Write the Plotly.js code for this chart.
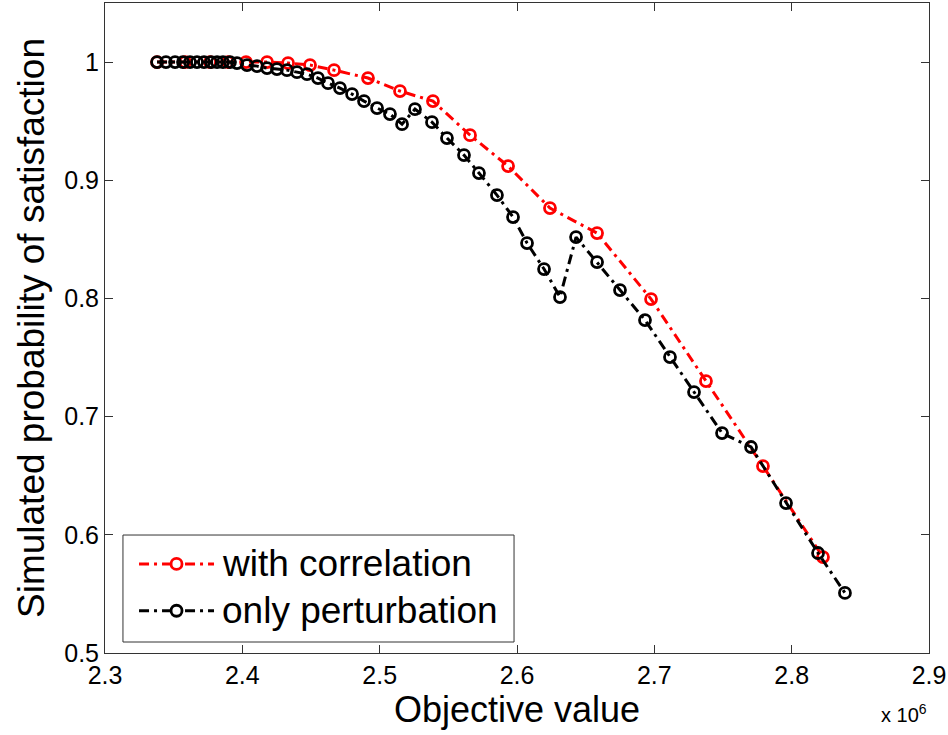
<!DOCTYPE html>
<html>
<head>
<meta charset="utf-8">
<script src="https://cdn.plot.ly/plotly-3.0.1.min.js"></script>
<style>html,body{margin:0;padding:0;background:#fff;}#chart{width:948px;height:735px;}</style>
</head>
<body>
<div id="chart"></div>
<script>
// Objective value (x 10^6) and simulated probability of satisfaction
const corrX = [2.3379, 2.3583, 2.3765, 2.3896, 2.4027, 2.4180, 2.4333, 2.4493, 2.4668, 2.4915,
               2.5148, 2.5388, 2.5658, 2.5935, 2.6240, 2.6583, 2.6976, 2.7376, 2.7791, 2.8228];
const corrY = [1.0000, 1.0000, 1.0000, 1.0000, 1.0000, 1.0000, 0.9992, 0.9975, 0.9932, 0.9865,
               0.9755, 0.9670, 0.9382, 0.9120, 0.8765, 0.8553, 0.7995, 0.7301, 0.6582, 0.5812];

const pertX = [2.3379, 2.3444, 2.3510, 2.3568, 2.3619, 2.3670, 2.3721, 2.3772, 2.3816, 2.3859,
               2.3910, 2.3961, 2.4034, 2.4107, 2.4180, 2.4252, 2.4325, 2.4398, 2.4471, 2.4551,
               2.4624, 2.4711, 2.4799, 2.4886, 2.4981, 2.5075, 2.5163, 2.5257, 2.5381, 2.5490,
               2.5614, 2.5723, 2.5854, 2.5971, 2.6073, 2.6197, 2.6313, 2.6430, 2.6583, 2.6750,
               2.6932, 2.7114, 2.7289, 2.7493, 2.7704, 2.7959, 2.8192, 2.8388];
const pertY = [1.0000, 1.0000, 1.0000, 1.0000, 1.0000, 1.0000, 1.0000, 1.0000, 1.0000, 1.0000,
               1.0000, 0.9992, 0.9975, 0.9966, 0.9949, 0.9941, 0.9932, 0.9915, 0.9898, 0.9865,
               0.9822, 0.9780, 0.9729, 0.9670, 0.9611, 0.9560, 0.9475, 0.9602, 0.9492, 0.9357,
               0.9213, 0.9061, 0.8875, 0.8689, 0.8469, 0.8249, 0.8012, 0.8519, 0.8308, 0.8071,
               0.7817, 0.7504, 0.7208, 0.6861, 0.6743, 0.6269, 0.5846, 0.5508];

const seriesNames = ['with correlation', 'only perturbation'];
const seriesColors = ['#ff0000', '#000000'];
const xTicks = [2.3, 2.4, 2.5, 2.6, 2.7, 2.8, 2.9];
const yTicks = [0.5, 0.6, 0.7, 0.8, 0.9, 1.0];
const yTickText = ['0.5', '0.6', '0.7', '0.8', '0.9', '1'];

const FONT = 'Liberation Sans, Arial, sans-serif';
const DASH = '10px,5px,3px,5px';

function trace(x, y, i) {
  return {
    x: x, y: y, name: seriesNames[i], type: 'scatter', mode: 'lines+markers',
    line: {color: seriesColors[i], width: 3, dash: DASH},
    marker: {symbol: 'circle-open', size: 11, color: seriesColors[i], line: {width: 2.8, color: seriesColors[i]}},
    showlegend: false, hoverinfo: 'skip'
  };
}

const data = [trace(corrX, corrY, 0), trace(pertX, pertY, 1)];

// manual MATLAB-style legend (paper coords)
const legRows = [0.137, 0.065];
const lx0 = 0.0413, lx1 = 0.1323, lmx = 0.0868, ltx = 0.1400;
const shapes = [
  {type: 'rect', xref: 'paper', yref: 'paper', x0: 0.0218, x1: 0.4964, y0: 0.0169, y1: 0.1815,
   line: {color: '#333', width: 1}, fillcolor: '#fff', layer: 'above'}
];
const annotations = [];
legRows.forEach((ry, i) => {
  shapes.push({type: 'line', xref: 'paper', yref: 'paper', x0: lx0, x1: lx1, y0: ry, y1: ry,
    line: {color: seriesColors[i], width: 3, dash: DASH}, layer: 'above'});
  shapes.push({type: 'circle', xref: 'paper', yref: 'paper', xsizemode: 'pixel', ysizemode: 'pixel',
    xanchor: lmx, yanchor: ry, x0: -5.5, x1: 5.5, y0: -5.5, y1: 5.5,
    line: {color: seriesColors[i], width: 2.8}, fillcolor: '#fff', layer: 'above'});
  annotations.push({xref: 'paper', yref: 'paper', x: ltx, y: ry, xanchor: 'left', yanchor: 'middle',
    text: seriesNames[i], showarrow: false, font: {family: FONT, size: 37, color: '#000'}});
});
annotations.push({xref: 'paper', yref: 'paper', x: 1.0, y: 0, xanchor: 'right', yanchor: 'top',
  yshift: -46, text: 'x 10<sup>6</sup>', showarrow: false, font: {family: FONT, size: 20, color: '#000'}});

const layout = {
  width: 948, height: 735,
  margin: {l: 105, r: 19, t: 3, b: 82},
  paper_bgcolor: '#fff', plot_bgcolor: '#fff',
  font: {family: FONT, color: '#000'},
  xaxis: {
    range: [2.3, 2.9], tickvals: xTicks, ticktext: xTicks.map(v => v.toFixed(1)),
    ticks: 'inside', ticklen: 8, tickcolor: '#333', tickwidth: 1,
    showline: true, linecolor: '#333', linewidth: 1, mirror: 'ticks',
    showgrid: false, zeroline: false,
    tickfont: {family: FONT, size: 25, color: '#000'},
    title: {text: 'Objective value', font: {family: FONT, size: 36, color: '#000'}, standoff: 8}
  },
  yaxis: {
    range: [0.5, 1.05], tickvals: yTicks, ticktext: yTickText,
    ticks: 'inside', ticklen: 8, tickcolor: '#333', tickwidth: 1,
    showline: true, linecolor: '#333', linewidth: 1, mirror: 'ticks',
    showgrid: false, zeroline: false,
    tickfont: {family: FONT, size: 25, color: '#000'},
    title: {text: 'Simulated probability of satisfaction', font: {family: FONT, size: 37, color: '#000'}, standoff: 8}
  },
  shapes: shapes,
  annotations: annotations,
  showlegend: false
};

Plotly.newPlot('chart', data, layout, {staticPlot: true});
</script>
</body>
</html>
